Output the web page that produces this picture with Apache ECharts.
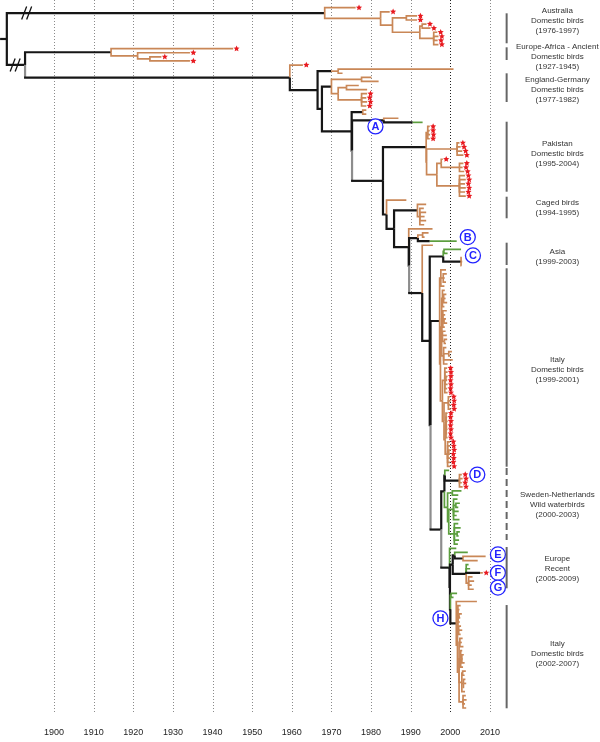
<!DOCTYPE html>
<html><head><meta charset="utf-8">
<script src="https://cdn.jsdelivr.net/npm/echarts@6/dist/echarts.min.js"></script>
<style>html,body{margin:0;padding:0;background:#fff}#chart{width:600px;height:742px}</style>
</head><body><div id="chart"></div>
<script>
// ---------- tree data (years = node / tip dates; code: colour letter(s), '*' = red star) ----------
function L(t, code){ return {t: t, code: code}; }
function N(t, code){ return {t: t, code: code, kids: Array.prototype.slice.call(arguments, 2)}; }

const australia = N(1968.3,'k',
  L(1976.1,'o*'),
  N(1982.4,'o',
    L(1984.7,'o*'),
    N(1985.4,'o',
      N(1988.9,'o', L(1991.6,'o*'), L(1991.6,'o*')),
      N(1992.3,'o',
        N(1992.9,'o', L(1994.0,'o*'), L(1995.0,'o*')),
        N(1995.8,'o', L(1996.7,'o*'), L(1997.0,'o*'), L(1996.8,'o*'), L(1997.0,'o*'))))));

const ancient = N(1914.4,'k',
  L(1945.2,'o*'),
  N(1921.1,'o', L(1934.3,'o*'), N(1924.2,'o', L(1927.1,'o*'), L(1934.3,'o*'))));

const longBrown = N(1969.9,'k', N(1971.7,'o', L(2000.8,'o'), L(1972.8,'o')));

const england = N(1970.0,'k',
  N(1977.6,'o', L(1980.1,'o'), L(1981.9,'o')),
  N(1971.7,'o',
    N(1973.8,'o', L(1976.9,'o'), L(1979.0,'o')),
    N(1977.6,'o', L(1979.0,'o*'), L(1978.8,'o*'), L(1979.0,'o*'), L(1978.8,'o*'))));

const smallPair = N(1977.9,'k', L(1978.8,'o'), L(1978.8,'o'));
const cladeA = N(1983.2,'k', L(1986.9,'o'), N(1990.5,'k', L(1993.0,'n')));

const pakistan = N(1993.9,'k',
  N(1994.3,'o', L(1994.8,'o*'), L(1994.8,'o*'), L(1994.9,'o*'), L(1994.8,'o*')),
  N(1994.0,'o',
    N(2001.7,'o', L(2002.3,'o*'), L(2002.6,'o*'), L(2003.0,'o*'), L(2003.3,'o*')),
    N(1996.6,'o',
      N(1997.7,'o', L(1998.1,'o*'), N(2002.3,'o', L(2003.3,'o*'), L(2003.1,'o*'), L(2003.5,'o*'))),
      N(2002.3,'o', L(2003.7,'o*'), L(2003.9,'o*'), L(2003.7,'o*'), L(2003.9,'o*'), L(2003.7,'o*'), L(2003.9,'o*')))));

const caged = N(1991.7,'k',
  L(1993.9,'o'),
  N(1992.3,'o', L(1993.3,'o'), L(1993.9,'o'), L(1993.5,'o'), L(1993.9,'o'), L(1993.4,'o')));

const cladeX = N(1991.8,'k',
  N(1993.0,'o', L(1994.5,'o'), L(1993.5,'o')),
  N(1994.8,'k', L(2001.6,'n')));

const cladeC = N(1998.2,'k',
  N(1998.4,'n', L(2002.7,'n'), L(1999.3,'n')),
  N(2002.7,'k', L(2002.9,'o'), L(2003.0,'o'), L(2002.8,'o')));

const italyUpper1 = N(1997.6,'o', L(1998.9,'o'), N(1998.2,'o', L(1999.1,'o'), L(1998.6,'o'), L(1998.9,'o')), L(1998.5,'o'));
const italyUpper2 = N(1997.8,'o',
  N(1998.0,'o', L(1998.6,'o'), N(1998.3,'o', L(1999.0,'o'), L(1998.8,'o'), L(1999.2,'o')), L(1998.5,'o')),
  N(1998.1,'o', L(1999.1,'o'), L(1998.7,'o'), N(1998.4,'o', L(1998.9,'o'), L(1999.2,'o')), L(1998.6,'o')),
  N(1998.0,'o', L(1998.8,'o'), L(1999.1,'o'), N(1998.5,'o', L(1999.2,'o'), L(1998.9,'o'))),
  N(1998.3,'o', L(1999.0,'o'), N(1999.6,'o', L(2000.4,'o'), L(2000.0,'o')), L(2000.6,'o'), L(1999.3,'o')));
const italyStars = N(1998.0,'o',
  N(1998.6,'o', L(1999.2,'o*'), L(1999.3,'o*'), N(1998.9,'o', L(1999.3,'o*'), L(1999.2,'o*')), L(1999.3,'o*'), L(1999.2,'o*'), L(1999.3,'o*')),
  N(1998.4,'o',
    N(1999.5,'o', L(2000.0,'o*'), L(2000.1,'o*'), L(2000.0,'o*'), L(2000.1,'o*')),
    N(1998.7,'o',
      N(1998.9,'o', L(1999.3,'o*'), L(1999.2,'o*'), L(1999.3,'o*'), N(1999.0,'o', L(1999.2,'o*'), L(1999.3,'o*')), L(1999.2,'o*'), L(1999.3,'o*')),
      N(1999.3,'o', L(1999.9,'o*'), L(2000.0,'o*'), N(1999.6,'o', L(2000.1,'o*'), L(1999.9,'o*')), L(2000.0,'o*'), L(1999.9,'o*'), L(2000.1,'o*')))));
const italy = N(1997.3,'k', italyUpper1, N(1997.5,'o', italyUpper2, italyStars));

const cladeD = N(1998.6,'k', L(1999.7,'n'), N(2002.3,'k', L(2002.9,'o*'), L(2003.1,'o*'), L(2002.9,'o*'), L(2003.1,'o*')));
const sweden = N(1999.3,'n',
  N(2000.5,'n', L(2002.8,'n'), L(2002.0,'n')),
  N(1999.6,'n',
    N(2000.8,'n', L(2001.8,'n'), N(2001.4,'n', L(2002.4,'n'), L(2002.0,'n')), L(2002.1,'n'), L(2001.6,'n'), L(2002.3,'n')),
    N(2001.0,'n', L(2002.0,'n'), L(2002.6,'n'), N(2001.7,'n', L(2002.4,'n'), L(2002.1,'n')), L(2002.2,'n'), L(2001.9,'n'))));

const cladeE = N(2001.1,'k', L(2004.4,'n'), N(2003.2,'k', L(2008.9,'o'), L(2006.9,'o')));
const cladeFG = N(2004.0,'k', L(2004.6,'n'), L(2005.0,'n'), N(2007.5,'k', L(2008.2,'o*')),
  N(2004.6,'o', L(2005.6,'o'), L(2006.0,'o'), L(2005.4,'o'), L(2005.9,'o')));

const italy2Body = N(2001.8,'o',
  N(2001.9,'o', L(2002.6,'o'), L(2002.3,'o'), N(2002.2,'o', L(2002.9,'o'), L(2002.5,'o')), L(2002.4,'o'), N(2002.1,'o', L(2002.7,'o'), L(2003.0,'o'), L(2002.6,'o'))),
  N(2002.2,'o',
    N(2002.4,'o', L(2003.1,'o'), L(2002.9,'o'), L(2003.3,'o')),
    N(2002.6,'o', L(2003.0,'o'), N(2002.9,'o', L(2003.4,'o'), L(2003.1,'o'), L(2003.6,'o')), L(2003.2,'o')),
    N(2002.9,'o', N(2003.1,'o', L(2003.9,'o'), L(2003.6,'o')), N(2003.3,'o', L(2003.8,'o'), L(2004.0,'o'), L(2003.5,'o')), L(2003.7,'o')),
    N(2003.2,'o', L(2003.9,'o'), L(2004.1,'o'), L(2003.7,'o'), L(2004.0,'o'))));
const italy2 = N(2001.5,'k', L(2006.7,'o'), italy2Body);

const cladeLL = N(1999.8,'kg', L(2001.5,'n'),
  N(1999.9,'k', N(2000.6,'k', cladeE, cladeFG),
    N(2000.0,'k', N(2000.2,'n', L(2001.7,'n'), L(2000.8,'n')), italy2)));
const cladeZL = N(1997.7,'kg', N(1998.5,'k', cladeD, sweden), cladeLL);
const cladeZ = N(1994.8,'k', cladeC, N(1995.0,'k', italy, cladeZL));
const cladeY = N(1992.9,'kg', L(1995.6,'o'), cladeZ);
const cladeW = N(1989.5,'k', L(1995.5,'o'), N(1989.6,'k', cladeX, cladeY));
const cladeU = N(1983.9,'k', L(1988.9,'o'), N(1985.8,'k', caged, cladeW));
const cladeT = N(1983.0,'kg', pakistan, cladeU);
const cladeS = N(1975.1,'k', smallPair, N(1975.2,'k', cladeA, cladeT));
const mainClade = N(1959.5,'kg', L(1962.8,'o*'), N(1966.5,'k', longBrown, N(1967.6,'k', england, cladeS)));
const europeAfrica = N(1892.7,'k', ancient, mainClade);
const root = N(1888.1,'k', australia, europeAfrica);
const rootStubYear = 1886.4;
const treeBreaks = [[australia, 1893.1], [europeAfrica, 1890.2]];

// ---------- axis ticks ----------
const tickYears = [1900,1910,1920,1930,1940,1950,1960,1970,1980,1990,2000,2010];
const darkTick = 2000;

// ---------- clade annotations (rows in leaf units) ----------
const cladeLabels = ['Australia\nDomestic birds\n(1976-1997)','Europe-Africa - Ancient\nDomestic birds\n(1927-1945)',
  'England-Germany\nDomestic birds\n(1977-1982)','Pakistan\nDomestic birds\n(1995-2004)','Caged birds\n(1994-1995)',
  'Asia\n(1999-2003)','Italy\nDomestic birds\n(1999-2001)','Sweden-Netherlands\nWild waterbirds\n(2000-2003)',
  'Europe\nRecent\n(2005-2009)','Italy\nDomestic birds\n(2002-2007)'];
const cladeBarFrom = [1.37, 9.67, 16.02, 27.84, 46.15, 57.38, 63.63, 112.40, 131.69, 145.86];
const cladeBarTo   = [8.69, 12.77, 23.03, 44.93, 51.42, 62.83, 112.08, 129.98, 141.77, 171.07];
const cladeLabelRow = [3.25, 11.96, 20.10, 35.72, 48.84, 60.80, 88.47, 121.43, 136.89, 157.65];
const cladeBarDashed = [0,0,0,0,0,0,0,1,0,0];

const letterNames = ['A','B','C','D','E','F','G','H'];
const letterYears = [1981.1, 2004.4, 2005.7, 2006.8, 2012.0, 2012.0, 2012.0, 1997.5];
const letterRows  = [29.0, 56.0, 60.5, 114.0, 133.5, 138.0, 141.6, 149.1];

// ---------- styling ----------
const COLOR_KEYS = 'kgon';
const COLORS = ['#161616','#8d8d8d','#c98757','#5c9e3e'];
const WIDTHS = [2.2, 2.2, 1.7, 1.7];
const BAR_YEAR = 2014.2, LABEL_YEAR = 2027.0;

// ---------- layout ----------
let leafCount = 0;
function layout(n){
  if (!n.kids){ n.y = leafCount++; return; }
  n.kids.forEach(layout);
  n.y = (n.kids[0].y + n.kids[n.kids.length-1].y) / 2;
}
layout(root);
const branchData = [], starData = [];
function collect(n, p){
  const hc = COLOR_KEYS.indexOf(n.code[0]);
  const vc = (n.code.length > 1 && n.code[1] !== '*') ? COLOR_KEYS.indexOf(n.code[1]) : hc;
  if (p) branchData.push([p.t, p.y, n.t, n.y, vc, hc]);
  if (n.code.indexOf('*') >= 0) starData.push([n.t, n.y]);
  (n.kids || []).forEach(function(k){ collect(k, n); });
}
branchData.push([rootStubYear, root.y, root.t, root.y, 0, 0]);
collect(root, null);
const breakData = treeBreaks.map(function(b){ return [b[1], b[0].y]; });

const TOP_PX = 7.7, LAST_PX = 708, GRID_H = 712;
const rowPx = (LAST_PX - TOP_PX) / (leafCount - 1);
const yMin = -TOP_PX / rowPx, yMax = yMin + GRID_H / rowPx;

function starPts(cx, cy, R, r){
  const pts = [];
  for (let i = 0; i < 10; i++){
    const a = -Math.PI/2 + i*Math.PI/5, rad = i % 2 ? r : R;
    pts.push([cx + rad*Math.cos(a), cy + rad*Math.sin(a)]);
  }
  return pts;
}

const chart = echarts.init(document.getElementById('chart'), null, {renderer:'canvas'});
chart.setOption({
  animation: false,
  backgroundColor: '#ffffff',
  grid: {left: 14.36, right: 30.74, top: 0, height: GRID_H, containLabel: false},
  xAxis: {type:'value', min:1890, max:2030, interval:10,
    axisLine:{show:false}, axisTick:{show:false}, splitLine:{show:false},
    axisLabel:{formatter: function(v){ return tickYears.indexOf(v) >= 0 ? String(v) : ''; },
      fontSize:9, color:'#222', fontFamily:'Liberation Sans', margin:16}},
  yAxis: {type:'value', inverse:true, min:yMin, max:yMax, show:false, splitLine:{show:false}},
  series: [
    { type:'custom', clip:false, silent:true, z:1,
      data: tickYears.map(function(v){ return [v, 0]; }),
      encode:{x:0, y:1},
      renderItem: function(params, api){
        const cs = params.coordSys, x = Math.round(api.coord([api.value(0), 0])[0]) + 0.5;
        const dark = api.value(0) === darkTick;
        return {type:'line', shape:{x1:x, y1:cs.y, x2:x, y2:cs.y + cs.height},
          style:{stroke: dark ? '#222' : '#8a8a8a', lineWidth:1, lineDash:[1,2]}};
      }},
    { type:'custom', clip:false, silent:true, z:3,
      data: branchData, encode:{x:[0,2], y:[1,3]},
      renderItem: function(params, api){
        const p0 = api.coord([api.value(0), api.value(1)]);
        const p1 = api.coord([api.value(0), api.value(3)]);
        const p2 = api.coord([api.value(2), api.value(3)]);
        const vc = api.value(4), hc = api.value(5);
        if (vc === hc){
          return {type:'polyline', shape:{points:[p0,p1,p2]},
            style:{stroke:COLORS[hc], lineWidth:WIDTHS[hc], fill:null, lineJoin:'miter'}};
        }
        return {type:'group', children:[
          {type:'line', shape:{x1:p0[0], y1:p0[1], x2:p1[0], y2:p1[1]}, style:{stroke:COLORS[vc], lineWidth:WIDTHS[vc]}},
          {type:'line', shape:{x1:p1[0]-1, y1:p1[1], x2:p2[0], y2:p2[1]}, style:{stroke:COLORS[hc], lineWidth:WIDTHS[hc]}}
        ]};
      }},
    { type:'custom', clip:false, silent:true, z:4,
      data: breakData, encode:{x:0, y:1},
      renderItem: function(params, api){
        const p = api.coord([api.value(0), api.value(1)]);
        const st = {stroke:'#111', lineWidth:1.3};
        return {type:'group', children:[
          {type:'line', shape:{x1:p[0]-5, y1:p[1]+6.5, x2:p[0], y2:p[1]-6.5}, style:st},
          {type:'line', shape:{x1:p[0], y1:p[1]+6.5, x2:p[0]+5, y2:p[1]-6.5}, style:st}
        ]};
      }},
    { type:'custom', clip:false, silent:true, z:5,
      data: starData, encode:{x:0, y:1},
      renderItem: function(params, api){
        const p = api.coord([api.value(0), api.value(1)]);
        return {type:'polygon', shape:{points: starPts(p[0]+3.4, p[1], 3.2, 1.5)}, style:{fill:'#e8191f'}};
      }},
    { type:'custom', clip:false, silent:true, z:6,
      data: letterNames.map(function(n, i){ return [letterYears[i], letterRows[i], i]; }),
      encode:{x:0, y:1},
      renderItem: function(params, api){
        const p = api.coord([api.value(0), api.value(1)]);
        return {type:'group', children:[
          {type:'circle', shape:{cx:p[0], cy:p[1], r:7.5}, style:{fill:'#fff', stroke:'#2323ff', lineWidth:1.3}},
          {type:'text', x:p[0], y:p[1]+0.5, style:{text:letterNames[api.value(2)], fill:'#2323ff',
            font:'bold 11px "Liberation Sans", Arial, sans-serif', align:'center', verticalAlign:'middle'}}
        ]};
      }},
    { type:'custom', clip:false, silent:true, z:6,
      data: cladeLabels.map(function(s, i){ return [BAR_YEAR, cladeBarFrom[i], cladeBarTo[i], cladeLabelRow[i], cladeBarDashed[i], i]; }),
      encode:{x:0, y:[1,2]},
      renderItem: function(params, api){
        const a = api.coord([api.value(0), api.value(1)]);
        const b = api.coord([api.value(0), api.value(2)]);
        const t = api.coord([LABEL_YEAR, api.value(3)]);
        const dashed = api.value(4) === 1;
        return {type:'group', children:[
          {type:'line', shape:{x1:a[0], y1:a[1], x2:b[0], y2:b[1]},
            style:{stroke:'#666', lineWidth:2, lineDash: dashed ? [7,4] : null}},
          {type:'text', x:t[0], y:t[1], style:{text:cladeLabels[api.value(5)], fill:'#333',
            font:'8px "Liberation Sans", Arial, sans-serif', align:'center', verticalAlign:'middle', lineHeight:10}}
        ]};
      }}
  ]
});
</script></body></html>
